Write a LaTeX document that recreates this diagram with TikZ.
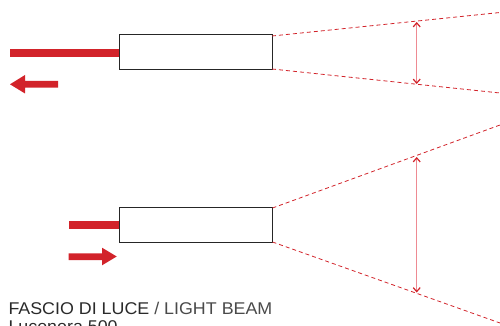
\documentclass[tikz,border=0pt]{standalone}
\usepackage{fontspec}
\setmainfont{Liberation Sans}
\usetikzlibrary{arrows.meta}
\definecolor{lred}{HTML}{D2232A}
\definecolor{lpink}{HTML}{EE8A92}
\definecolor{txtdark}{HTML}{2A2A2A}
\definecolor{txtlight}{HTML}{4A4A4A}
\tikzset{
  lamp/.style={draw=black!85, line width=1pt, fill=white},
  cable/.style={fill=lred, draw=none},
  beam/.style={draw=lred, dashed, dash pattern=on 4pt off 3pt, line width=0.8pt},
  span/.style={draw=lpink, line width=1.2pt, {Straight Barb[length=4pt,width=7pt,color=lred]}-{Straight Barb[length=4pt,width=7pt,color=lred]}},
  bigarrow/.style={fill=lred, draw=none}
}
\begin{document}
\begin{tikzpicture}[x=1pt,y=-1pt]
\useasboundingbox (0,0) rectangle (500,326);
\clip (0,0) rectangle (500,326);
% top unit
\fill[cable] (10,49) rectangle (119,57);
\node[lamp, draw=none, minimum width=0, inner sep=0] (ta) at (119,35) {};
\draw[lamp] (119,35) rectangle (272,70);
\coordinate (tul) at (272,36);
\coordinate (tll) at (272,69);
\coordinate (tue) at (500,12.5);
\coordinate (tle) at (500,93);
\draw[beam] (tul) -- (tue);
\draw[beam] (tll) -- (tle);
\coordinate (tat) at (416.7,22);
\coordinate (tab) at (416.7,84);
\draw[span] (tat) -- (tab);
\fill[bigarrow] (10,84.3) -- (25,75) -- (25,81) -- (58,81) -- (58,87.7) -- (25,87.7) -- (25,93.5) -- cycle;
% bottom unit
\fill[cable] (68.7,221) rectangle (119,229.3);
\draw[lamp] (119,207.7) rectangle (272.5,242.3);
\coordinate (bul) at (272.5,208);
\coordinate (bll) at (272.5,242);
\coordinate (bue) at (500,125);
\coordinate (ble) at (500,323);
\draw[beam] (bul) -- (bue);
\draw[beam] (bll) -- (ble);
\coordinate (bat) at (416.7,157);
\coordinate (bab) at (416.7,292.5);
\draw[span] (bat) -- (bab);
\fill[bigarrow] (116.7,256.5) -- (102,247.7) -- (102,253.3) -- (68.7,253.3) -- (68.7,260) -- (102,260) -- (102,265.3) -- cycle;
% captions
\node[anchor=base west, inner sep=0, font=\fontsize{17}{20}\selectfont, xscale=1.05] (cap) at (8.3,314.3) {\textcolor{txtdark}{FASCIO DI LUCE} \textcolor{txtlight}{/ LIGHT BEAM}};
\node[anchor=base west, inner sep=0, font=\fontsize{17}{20}\selectfont, xscale=1.05, text=txtdark] (sub) at (8.3,332.3) {Lucenera 500};
\end{tikzpicture}
\end{document}
